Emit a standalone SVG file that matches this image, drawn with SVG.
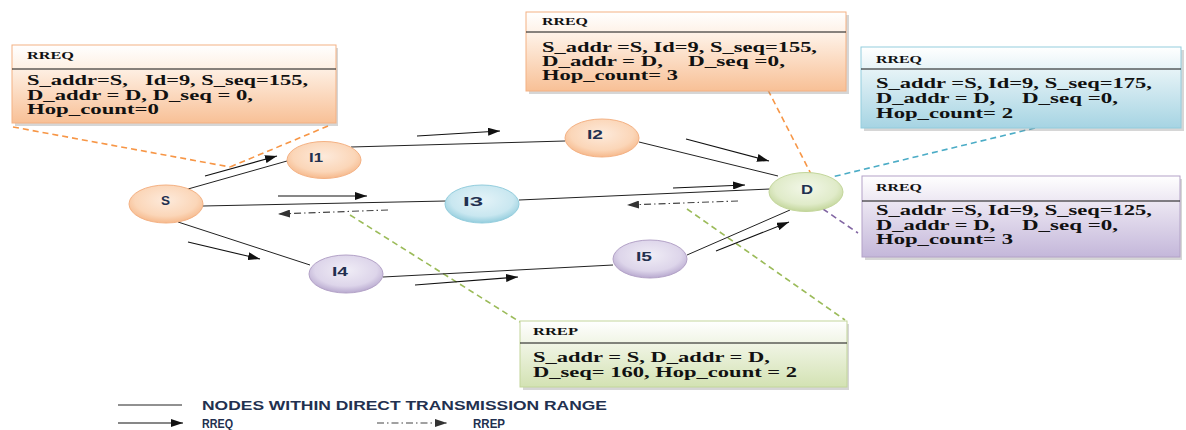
<svg xmlns="http://www.w3.org/2000/svg" width="1186" height="430" viewBox="0 0 1186 430">
<style>
.bt{font-family:"Liberation Serif","Times New Roman",serif;font-weight:bold;fill:#111;}
.hd{font-size:10.5px;}
.bd{font-size:14px;}
.nl{font-family:"Liberation Sans",Arial,sans-serif;font-size:12.5px;font-weight:bold;fill:#22304f;}
.lg{font-family:"Liberation Sans",Arial,sans-serif;font-size:12px;font-weight:bold;fill:#22304f;}
.link{stroke:#222;stroke-width:1;fill:none;}
.req{stroke:#111;stroke-width:1.1;fill:none;marker-end:url(#ah);}
.rep{stroke:#444;stroke-width:1.1;fill:none;stroke-dasharray:7 3 1.5 3;marker-end:url(#ah2);}
.co{stroke-width:1.6;fill:none;stroke-dasharray:6 4;}
.sep{stroke:#111;stroke-width:1;}
.sh{fill:#8a8a8a;opacity:0.35;}
</style>
<defs>
<marker id="ah" markerUnits="userSpaceOnUse" markerWidth="12" markerHeight="8" refX="12" refY="4" orient="auto"><path d="M0,0 L12,4 L0,8 z" fill="#111"/></marker>
<marker id="ah2" markerUnits="userSpaceOnUse" markerWidth="12" markerHeight="8" refX="12" refY="4" orient="auto"><path d="M0,0 L12,4 L0,8 z" fill="#333"/></marker>
<linearGradient id="gO" x1="0" y1="0" x2="0" y2="1"><stop offset="0" stop-color="#ffffff"/><stop offset="0.3" stop-color="#fef0e4"/><stop offset="1" stop-color="#f8c096"/></linearGradient>
<linearGradient id="gB" x1="0" y1="0" x2="0" y2="1"><stop offset="0" stop-color="#ffffff"/><stop offset="0.3" stop-color="#e4f2f6"/><stop offset="1" stop-color="#a6d4e3"/></linearGradient>
<linearGradient id="gP" x1="0" y1="0" x2="0" y2="1"><stop offset="0" stop-color="#ffffff"/><stop offset="0.3" stop-color="#ede8f3"/><stop offset="1" stop-color="#c4b7da"/></linearGradient>
<linearGradient id="gG" x1="0" y1="0" x2="0" y2="1"><stop offset="0" stop-color="#ffffff"/><stop offset="0.3" stop-color="#f2f6e8"/><stop offset="1" stop-color="#d3e2b3"/></linearGradient>
<radialGradient id="nO" cx="0.5" cy="0.4" r="0.6"><stop offset="0" stop-color="#fdeadb"/><stop offset="0.7" stop-color="#fbd6b8"/><stop offset="1" stop-color="#f6b98c"/></radialGradient>
<radialGradient id="nB" cx="0.5" cy="0.4" r="0.6"><stop offset="0" stop-color="#e4f3f8"/><stop offset="0.7" stop-color="#c9e7f0"/><stop offset="1" stop-color="#93cddd"/></radialGradient>
<radialGradient id="nP" cx="0.5" cy="0.4" r="0.6"><stop offset="0" stop-color="#f0edf6"/><stop offset="0.7" stop-color="#ddd5ea"/><stop offset="1" stop-color="#b8a9cf"/></radialGradient>
<radialGradient id="nG" cx="0.5" cy="0.4" r="0.6"><stop offset="0" stop-color="#f2f7e8"/><stop offset="0.7" stop-color="#e0ebc9"/><stop offset="1" stop-color="#c3d69b"/></radialGradient>
</defs>
<rect width="1186" height="430" fill="#ffffff"/>

<g id="callouts">
<path class="co" stroke="#f79646" d="M13,127 L230,167 M328,126 L230,167"/>
<path class="co" stroke="#f79646" d="M768,90 L811,174"/>
<path class="co" stroke="#4bacc6" d="M1035,128 L832,177"/>
<path class="co" stroke="#8064a2" d="M823,209 L858,233"/>
<path class="co" stroke="#9bbb59" d="M350,215 L520,322 M687,209 L845,320"/>
</g>

<g id="connectors">
<line class="link" x1="188" y1="189" x2="287" y2="161"/>
<line class="link" x1="351" y1="147" x2="565" y2="141"/>
<line class="link" x1="639" y1="142" x2="778" y2="176"/>
<line class="link" x1="203" y1="206" x2="446" y2="201"/>
<line class="link" x1="519" y1="200" x2="770" y2="189"/>
<line class="link" x1="178" y1="222" x2="310" y2="265"/>
<line class="link" x1="383" y1="277" x2="613" y2="265"/>
<line class="link" x1="687" y1="255" x2="790" y2="210"/>
<line class="req" x1="205" y1="176" x2="277" y2="156"/>
<line class="req" x1="417" y1="136" x2="500" y2="131"/>
<line class="req" x1="686" y1="139" x2="769" y2="161"/>
<line class="req" x1="278" y1="196" x2="367" y2="196"/>
<line class="req" x1="673" y1="188" x2="745" y2="185"/>
<line class="req" x1="188" y1="242" x2="260" y2="259"/>
<line class="req" x1="415" y1="285" x2="518" y2="277"/>
<line class="req" x1="716" y1="251" x2="789" y2="222"/>
<line class="rep" x1="388" y1="210" x2="278" y2="214"/>
<line class="rep" x1="738" y1="201" x2="627" y2="205"/>
</g>

<g id="node-S"><ellipse cx="166" cy="204" rx="37" ry="19" fill="url(#nO)" stroke="#f4b183" stroke-width="1"/><text class="nl" x="161" y="205" textLength="9" lengthAdjust="spacingAndGlyphs">S</text></g>
<g id="node-I1"><ellipse cx="324" cy="160" rx="37" ry="18.5" fill="url(#nO)" stroke="#f4b183" stroke-width="1"/><text class="nl" x="309" y="162" textLength="14" lengthAdjust="spacingAndGlyphs">I1</text></g>
<g id="node-I2"><ellipse cx="602" cy="138" rx="37" ry="19" fill="url(#nO)" stroke="#f4b183" stroke-width="1"/><text class="nl" x="587" y="139" textLength="16" lengthAdjust="spacingAndGlyphs">I2</text></g>
<g id="node-I3"><ellipse cx="482" cy="204" rx="37" ry="19" fill="url(#nB)" stroke="#93cddd" stroke-width="1"/><text class="nl" x="463" y="206" textLength="20" lengthAdjust="spacingAndGlyphs">I3</text></g>
<g id="node-I4"><ellipse cx="346" cy="274" rx="37" ry="19" fill="url(#nP)" stroke="#b3a2c7" stroke-width="1"/><text class="nl" x="332" y="276" textLength="16" lengthAdjust="spacingAndGlyphs">I4</text></g>
<g id="node-I5"><ellipse cx="650" cy="259" rx="37" ry="19" fill="url(#nP)" stroke="#b3a2c7" stroke-width="1"/><text class="nl" x="636" y="261" textLength="16" lengthAdjust="spacingAndGlyphs">I5</text></g>
<g id="node-D"><ellipse cx="806" cy="192" rx="37" ry="19.5" fill="url(#nG)" stroke="#c3d69b" stroke-width="1"/><text class="nl" x="801" y="194" textLength="12" lengthAdjust="spacingAndGlyphs">D</text></g>

<g id="box-rreq1">
<rect class="sh" x="15" y="48" width="323" height="78"/>
<rect x="12" y="45" width="324" height="78" fill="url(#gO)" stroke="#f4b183" stroke-width="1"/>
<line class="sep" x1="12" y1="69" x2="336" y2="69"/>
<text class="bt hd" x="27" y="59" textLength="47" lengthAdjust="spacingAndGlyphs">RREQ</text>
<text class="bt bd" x="27" y="85" textLength="101" lengthAdjust="spacingAndGlyphs">S_addr=S,</text>
<text class="bt bd" x="145" y="85" textLength="163" lengthAdjust="spacingAndGlyphs">Id=9, S_seq=155,</text>
<text class="bt bd" x="27" y="100" textLength="226" lengthAdjust="spacingAndGlyphs">D_addr = D, D_seq = 0,</text>
<text class="bt bd" x="27" y="114" textLength="132" lengthAdjust="spacingAndGlyphs">Hop_count=0</text>
</g>

<g id="box-rreq2">
<rect class="sh" x="529" y="15" width="320" height="79"/>
<rect x="526" y="12" width="320" height="79" fill="url(#gO)" stroke="#f4b183" stroke-width="1"/>
<line class="sep" x1="526" y1="32" x2="846" y2="32"/>
<text class="bt hd" x="542" y="25" textLength="46" lengthAdjust="spacingAndGlyphs">RREQ</text>
<text class="bt bd" x="542" y="52" textLength="275" lengthAdjust="spacingAndGlyphs">S_addr =S, Id=9, S_seq=155,</text>
<text class="bt bd" x="542" y="66" textLength="121" lengthAdjust="spacingAndGlyphs">D_addr = D,</text>
<text class="bt bd" x="688" y="66" textLength="97" lengthAdjust="spacingAndGlyphs">D_seq =0,</text>
<text class="bt bd" x="542" y="80" textLength="136" lengthAdjust="spacingAndGlyphs">Hop_count= 3</text>
</g>

<g id="box-rreq3">
<rect class="sh" x="864" y="50" width="320" height="81"/>
<rect x="861" y="47" width="320" height="81" fill="url(#gB)" stroke="#93cddd" stroke-width="1"/>
<line class="sep" x1="861" y1="69" x2="1181" y2="69"/>
<text class="bt hd" x="876" y="63" textLength="46" lengthAdjust="spacingAndGlyphs">RREQ</text>
<text class="bt bd" x="876" y="88" textLength="276" lengthAdjust="spacingAndGlyphs">S_addr =S, Id=9, S_seq=175,</text>
<text class="bt bd" x="876" y="103" textLength="119" lengthAdjust="spacingAndGlyphs">D_addr = D,</text>
<text class="bt bd" x="1022" y="103" textLength="96" lengthAdjust="spacingAndGlyphs">D_seq =0,</text>
<text class="bt bd" x="876" y="118" textLength="137" lengthAdjust="spacingAndGlyphs">Hop_count= 2</text>
</g>

<g id="box-rreq4">
<rect class="sh" x="865" y="179" width="317" height="81"/>
<rect x="862" y="176" width="318" height="81" fill="url(#gP)" stroke="#b3a2c7" stroke-width="1"/>
<line class="sep" x1="862" y1="201" x2="1180" y2="201"/>
<text class="bt hd" x="876" y="191" textLength="46" lengthAdjust="spacingAndGlyphs">RREQ</text>
<text class="bt bd" x="876" y="215" textLength="276" lengthAdjust="spacingAndGlyphs">S_addr =S, Id=9, S_seq=125,</text>
<text class="bt bd" x="876" y="230" textLength="119" lengthAdjust="spacingAndGlyphs">D_addr = D,</text>
<text class="bt bd" x="1022" y="230" textLength="96" lengthAdjust="spacingAndGlyphs">D_seq =0,</text>
<text class="bt bd" x="876" y="244" textLength="137" lengthAdjust="spacingAndGlyphs">Hop_count= 3</text>
</g>

<g id="box-rrep">
<rect class="sh" x="523" y="324" width="326" height="66"/>
<rect x="520" y="321" width="327" height="66" fill="url(#gG)" stroke="#c3d69b" stroke-width="1"/>
<line class="sep" x1="520" y1="343" x2="847" y2="343"/>
<text class="bt hd" x="533" y="335" textLength="45" lengthAdjust="spacingAndGlyphs">RREP</text>
<text class="bt bd" x="533" y="362" textLength="237" lengthAdjust="spacingAndGlyphs">S_addr = S, D_addr = D,</text>
<text class="bt bd" x="533" y="377" textLength="264" lengthAdjust="spacingAndGlyphs">D_seq= 160, Hop_count = 2</text>
</g>

<g id="legend">
<line class="link" x1="118" y1="405" x2="182" y2="405"/>
<text class="lg" x="202" y="410" textLength="405" lengthAdjust="spacingAndGlyphs">NODES WITHIN DIRECT TRANSMISSION RANGE</text>
<line class="req" x1="118" y1="423" x2="183" y2="423"/>
<text class="lg" x="202" y="428" textLength="31" lengthAdjust="spacingAndGlyphs">RREQ</text>
<line class="rep" x1="377" y1="423" x2="447" y2="423"/>
<text class="lg" x="473" y="428" textLength="32" lengthAdjust="spacingAndGlyphs">RREP</text>
</g>
</svg>
